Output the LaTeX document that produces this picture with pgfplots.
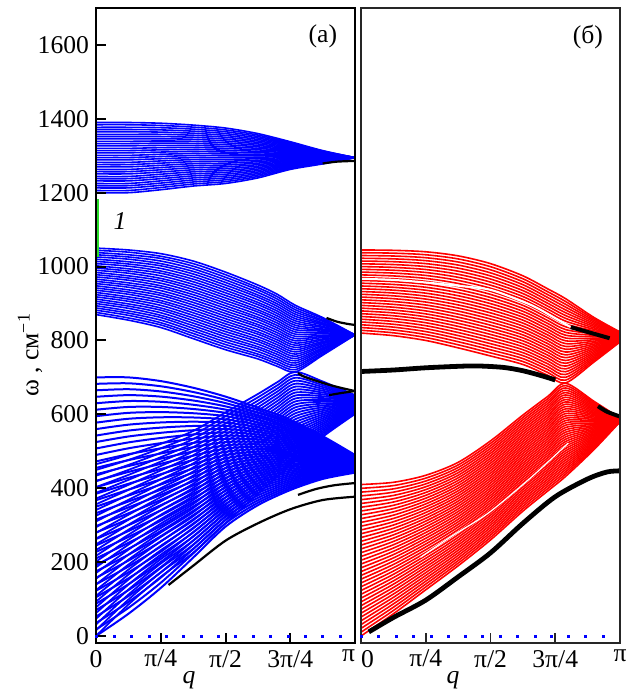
\documentclass[border=0pt]{standalone}
\usepackage{pgfplots}
\pgfplotsset{compat=1.18}
\usepackage{pgfplotstable}
\usepackage{fontspec}
\setmainfont{Liberation Serif}

% panel (a), top band: column 0 = q/pi, columns 1..31 = lines
\pgfplotstableread[header=false]{
0 1390 1384 1377 1371 1365 1358 1352 1346 1339 1333 1327 1320 1314 1308 1301 1295 1289 1282 1276 1270 1263 1257 1251 1244 1238 1232 1225 1219 1213 1206 1200
0.125 1390 1384 1377 1371 1365 1358 1352 1346 1339 1333 1327 1320 1314 1308 1301 1295 1289 1282 1276 1270 1263 1257 1251 1244 1238 1232 1225 1219 1213 1206 1200
0.25 1388 1382 1376 1370 1364 1358 1352 1346 1340 1334 1328 1322 1316 1310 1304 1298 1292 1286 1280 1274 1268 1262 1256 1250 1244 1238 1232 1226 1220 1214 1208
0.375 1383 1377.5 1372 1366.5 1361 1355.5 1350 1344.5 1339 1333.5 1328 1322.5 1317 1311.5 1306 1300.5 1295 1289.5 1284 1278.5 1273 1267.5 1262 1256.5 1251 1245.5 1240 1234.5 1229 1223.5 1218
0.5 1375 1370 1365 1360 1355 1350 1345 1340 1335 1330 1325 1320 1315 1310 1305 1300 1295 1290 1285 1280 1275 1270 1265 1260 1255 1250 1245 1240 1235 1230 1225
0.625 1360 1356 1352 1348 1344 1340 1336 1332 1328 1324 1320 1316 1312 1308 1304 1300 1296 1292 1288 1284 1280 1276 1272 1268 1264 1260 1256 1252 1248 1244 1240
0.75 1338 1335.5 1333 1330.5 1328 1325.5 1323 1320.5 1318 1315.5 1313 1310.5 1308 1305.5 1303 1300.5 1298 1295.5 1293 1290.5 1288 1285.5 1283 1280.5 1278 1275.5 1273 1270.5 1268 1265.5 1263
0.875 1314 1312.8 1311.6 1310.4 1309.2 1308 1306.8 1305.6 1304.4 1303.2 1302 1300.8 1299.6 1298.4 1297.2 1296 1294.8 1293.6 1292.4 1291.2 1290 1288.8 1287.6 1286.4 1285.2 1284 1282.8 1281.6 1280.4 1279.2 1278
1 1295 1295 1295 1295 1295 1295 1295 1295 1295 1295 1295 1295 1295 1295 1295 1295 1295 1295 1295 1295 1295 1295 1295 1295 1295 1295 1295 1295 1295 1295 1295
}\tAone

% panel (a), band 870-1050
\pgfplotstableread[header=false]{
0 1050 1044 1038 1032 1026 1020 1014 1008 1002 996 990 984 978 972 966 960 954 948 942 936 930 924 918 912 906 900 894 888 882 876 870
0.125 1045 1039 1032 1026 1020 1013 1007 1001 994 988 982 975 969 963 956 950 944 937 931 925 918 912 906 899 893 887 880 874 868 861 855
0.25 1035 1028 1022 1015 1008 1002 995 988 982 975 968 962 955 948 942 935 928 922 915 908 902 895 888 882 875 868 862 855 848 842 835
0.375 1015 1008 1001 994 987 980 973 966 959 952 945 938 931 924 917 910 903 896 889 882 875 868 861 854 847 840 833 826 819 812 805
0.5 985 978 971 964 957 950 943 936 929 922 915 908 901 894 887 880 873 866 859 852 845 838 831 824 817 810 803 796 789 782 775
0.625 950 943 937 930 923 917 910 903 897 890 883 877 870 863 857 850 843 837 830 823 817 810 803 797 790 783 777 770 763 757 750
0.7 925 918.5 912 905.5 899 892.5 886 879.5 873 866.5 860 853.5 847 840.5 834 827.5 821 814.5 808 801.5 795 788.5 782 775.5 769 762.5 756 749.5 743 736.5 730
0.77 895 889 883 877 871 865 859 853 847 841 835 829 823 817 811 805 799 793 787 781 775 769 763 757 751 745 739 733 727 721 715
0.875 862 859 855 852 848 845 842 838 835 831 828 825 821 818 814 811 808 804 801 797 794 791 787 784 780 777 774 770 767 763 760
1 815 815 815 815 815 815 815 815 815 815 815 815 815 815 815 815 815 815 815 815 815 815 815 815 815 815 815 815 815 815 815
}\tAtwo

% panel (a), band starting 0-700, converging to 442-490
\pgfplotstableread[header=false]{
0 700 682.5 665 647.5 630 612.5 595 577.5 560 542.5 525 507.5 490 472.5 455 437.5 420 402.5 385 367.5 350 332.5 315 297.5 280 262.5 245 227.5 210 192.5 175 157.5 140 122.5 105 87.5 70 52.5 35 17.5 0
0.125 700 684 668 652 636 620 604 588 572 556 540 524 508 492 476 460 444 428 412 396 380 364 348 332 316 300 284 268 252 236 220 204 188 172 156 140 124 108 92 76 60
0.25 690 676 662 648 634 620 606 592 578 564 550 536 522 508 494 480 466 452 438 424 410 396 382 368 354 340 326 312 298 284 270 256 242 228 214 200 186 172 158 144 130
0.375 672 660.5 649 637.5 626 614.5 603 591.5 580 568.5 557 545.5 534 522.5 511 499.5 488 476.5 465 453.5 442 430.5 419 407.5 396 384.5 373 361.5 350 338.5 327 315.5 304 292.5 281 269.5 258 246.5 235 223.5 212
0.5 648 639.2 630.4 621.6 612.8 604 595.2 586.4 577.6 568.8 560 551.2 542.4 533.6 524.8 516 507.2 498.4 489.6 480.8 472 463.2 454.4 445.6 436.8 428 419.2 410.4 401.6 392.8 384 375.2 366.4 357.6 348.8 340 331.2 322.4 313.6 304.8 296
0.625 618 611.4 604.8 598.2 591.6 585 578.4 571.8 565.2 558.6 552 545.4 538.8 532.2 525.6 519 512.4 505.8 499.2 492.6 486 479.4 472.8 466.2 459.6 453 446.4 439.8 433.2 426.6 420 413.4 406.8 400.2 393.6 387 380.4 373.8 367.2 360.6 354
0.75 585 580.25 575.5 570.75 566 561.25 556.5 551.75 547 542.25 537.5 532.75 528 523.25 518.5 513.75 509 504.25 499.5 494.75 490 485.25 480.5 475.75 471 466.25 461.5 456.75 452 447.25 442.5 437.75 433 428.25 423.5 418.75 414 409.25 404.5 399.75 395
0.875 541 538.1 535.2 532.3 529.4 526.5 523.6 520.7 517.8 514.9 512 509.1 506.2 503.3 500.4 497.5 494.6 491.7 488.8 485.9 483 480.1 477.2 474.3 471.4 468.5 465.6 462.7 459.8 456.9 454 451.1 448.2 445.3 442.4 439.5 436.6 433.7 430.8 427.9 425
1 490 488.8 487.6 486.4 485.2 484 482.8 481.6 480.4 479.2 478 476.8 475.6 474.4 473.2 472 470.8 469.6 468.4 467.2 466 464.8 463.6 462.4 461.2 460 458.8 457.6 456.4 455.2 454 452.8 451.6 450.4 449.2 448 446.8 445.6 444.4 443.2 442
}\tAthree

% panel (a), rising band (0-465 at q=0, crossing at 0.77)
\pgfplotstableread[header=false]{
0 465 449.5 434 418.5 403 387.5 372 356.5 341 325.5 310 294.5 279 263.5 248 232.5 217 201.5 186 170.5 155 139.5 124 108.5 93 77.5 62 46.5 31 15.5 0
0.125 490 476.5 463 449.5 436 422.5 409 395.5 382 368.5 355 341.5 328 314.5 301 287.5 274 260.5 247 233.5 220 206.5 193 179.5 166 152.5 139 125.5 112 98.5 85
0.25 520 508 496 484 472 460 448 436 424 412 400 388 376 364 352 340 328 316 304 292 280 268 256 244 232 220 208 196 184 172 160
0.375 555 544 533 522 511 500 489 478 467 456 445 434 423 412 401 390 379 368 357 346 335 324 313 302 291 280 269 258 247 236 225
0.5 605 595 585 575 565 555 545 535 525 515 505 495 485 475 465 455 445 435 425 415 405 395 385 375 365 355 345 335 325 315 305
0.625 655 646 637 628 619 610 601 592 583 574 565 556 547 538 529 520 511 502 493 484 475 466 457 448 439 430 421 412 403 394 385
0.7 687 678.5 670 661.5 653 644.5 636 627.5 619 610.5 602 593.5 585 576.5 568 559.5 551 542.5 534 525.5 517 508.5 500 491.5 483 474.5 466 457.5 449 440.5 432
0.77 715 707 699 691 683 675 667 659 651 643 635 627 619 611 603 595 587 579 571 563 555 547 539 531 523 515 507 499 491 483 475
0.875 689 684 679 674 669 664 659 654 649 644 639 634 629 624 619 614 609 604 599 594 589 584 579 574 569 564 559 554 549 544 539
1 652 650.3 648.6 646.9 645.2 643.5 641.8 640.1 638.4 636.7 635 633.3 631.6 629.9 628.2 626.5 624.8 623.1 621.4 619.7 618 616.3 614.6 612.9 611.2 609.5 607.8 606.1 604.4 602.7 601
}\tAfour

% panel (b), top band
\pgfplotstableread[header=false]{
0 1045 1037.5 1030 1022.5 1015 1007.5 1000 992.5 985 977.5 970 962.5 955 947.5 940 932.5 925 917.5 910 902.5 895 887.5 880 872.5 865 857.5 850 842.5 835 827.5 820
0.125 1044 1036.3 1028.6 1020.9 1013.2 1005.5 997.8 990.1 982.4 974.7 967 959.3 951.6 943.9 936.2 928.5 920.8 913.1 905.4 897.7 890 882.3 874.6 866.9 859.2 851.5 843.8 836.1 828.4 820.7 813
0.25 1040 1032 1024 1016 1008 1000 992 984 976 968 960 952 944 936 928 920 912 904 896 888 880 872 864 856 848 840 832 824 816 808 800
0.375 1029 1020.7 1012.4 1004.1 995.8 987.5 979.2 970.9 962.6 954.3 946 937.7 929.4 921.1 912.8 904.5 896.2 887.9 879.6 871.3 863 854.7 846.4 838.1 829.8 821.5 813.2 804.9 796.6 788.3 780
0.5 1008 999.7 991.3 983 974.7 966.3 958 949.7 941.3 933 924.7 916.3 908 899.7 891.3 883 874.7 866.3 858 849.7 841.3 833 824.7 816.3 808 799.7 791.3 783 774.7 766.3 758
0.625 975 967 959 951 943 935 927 919 911 903 895 887 879 871 863 855 847 839 831 823 815 807 799 791 783 775 767 759 751 743 735
0.72 940 932.2 924.4 916.6 908.8 901 893.2 885.4 877.6 869.8 862 854.2 846.4 838.6 830.8 823 815.2 807.4 799.6 791.8 784 776.2 768.4 760.6 752.8 745 737.2 729.4 721.6 713.8 706
0.79 913 905.4 897.8 890.2 882.6 875 867.4 859.8 852.2 844.6 837 829.4 821.8 814.2 806.6 799 791.4 783.8 776.2 768.6 761 753.4 745.8 738.2 730.6 723 715.4 707.8 700.2 692.6 685
0.9 862 858 854 850 846 842 838 834 830 826 822 818 814 810 806 802 798 794 790 786 782 778 774 770 766 762 758 754 750 746 742
1 823 822.1 821.2 820.3 819.4 818.5 817.6 816.7 815.8 814.9 814 813.1 812.2 811.3 810.4 809.5 808.6 807.7 806.8 805.9 805 804.1 803.2 802.3 801.4 800.5 799.6 798.7 797.8 796.9 796
}\tBone

% panel (b), lower band
\pgfplotstableread[header=false]{
0 410 399.75 389.5 379.25 369 358.75 348.5 338.25 328 317.75 307.5 297.25 287 276.75 266.5 256.25 246 235.75 225.5 215.25 205 194.75 184.5 174.25 164 153.75 143.5 133.25 123 112.75 102.5 92.25 82 71.75 61.5 51.25 41 30.75 20.5 10.25 0
0.125 416 407.1 398.2 389.3 380.4 371.5 362.6 353.7 344.8 335.9 327 318.1 309.2 300.3 291.4 282.5 273.6 264.7 255.8 246.9 238 229.1 220.2 211.3 202.4 193.5 184.6 175.7 166.8 157.9 149 140.1 131.2 122.3 113.4 104.5 95.6 86.7 77.8 68.9 60
0.25 435 427.25 419.5 411.75 404 396.25 388.5 380.75 373 365.25 357.5 349.75 342 334.25 326.5 318.75 311 303.25 295.5 287.75 280 272.25 264.5 256.75 249 241.25 233.5 225.75 218 210.25 202.5 194.75 187 179.25 171.5 163.75 156 148.25 140.5 132.75 125
0.375 470 463 456 449 442 435 428 421 414 407 400 393 386 379 372 365 358 351 344 337 330 323 316 309 302 295 288 281 274 267 260 253 246 239 232 225 218 211 204 197 190
0.5 528 521.3 514.6 507.9 501.2 494.5 487.8 481.1 474.4 467.7 461 454.3 447.6 440.9 434.2 427.5 420.8 414.1 407.4 400.7 394 387.3 380.6 373.9 367.2 360.5 353.8 347.1 340.4 333.7 327 320.3 313.6 306.9 300.2 293.5 286.8 280.1 273.4 266.7 260
0.625 598 591.5 585 578.5 572 565.5 559 552.5 546 539.5 533 526.5 520 513.5 507 500.5 494 487.5 481 474.5 468 461.5 455 448.5 442 435.5 429 422.5 416 409.5 403 396.5 390 383.5 377 370.5 364 357.5 351 344.5 338
0.72 648 641.6 635.2 628.8 622.4 616 609.6 603.2 596.8 590.4 584 577.6 571.2 564.8 558.4 552 545.6 539.2 532.8 526.4 520 513.6 507.2 500.8 494.4 488 481.6 475.2 468.8 462.4 456 449.6 443.2 436.8 430.4 424 417.6 411.2 404.8 398.4 392
0.79 684 677.7 671.4 665.1 658.8 652.5 646.2 639.9 633.6 627.3 621 614.7 608.4 602.1 595.8 589.5 583.2 576.9 570.6 564.3 558 551.7 545.4 539.1 532.8 526.5 520.2 513.9 507.6 501.3 495 488.7 482.4 476.1 469.8 463.5 457.2 450.9 444.6 438.3 432
0.9 635 631.75 628.5 625.25 622 618.75 615.5 612.25 609 605.75 602.5 599.25 596 592.75 589.5 586.25 583 579.75 576.5 573.25 570 566.75 563.5 560.25 557 553.75 550.5 547.25 544 540.75 537.5 534.25 531 527.75 524.5 521.25 518 514.75 511.5 508.25 505
1 590 589.75 589.5 589.25 589 588.75 588.5 588.25 588 587.75 587.5 587.25 587 586.75 586.5 586.25 586 585.75 585.5 585.25 585 584.75 584.5 584.25 584 583.75 583.5 583.25 583 582.75 582.5 582.25 582 581.75 581.5 581.25 581 580.75 580.5 580.25 580
}\tBtwo

\definecolor{lgreen}{RGB}{40,220,40}

\begin{document}
\begin{tikzpicture}
\path[use as bounding box] (-48pt,-23.5pt) rectangle (269pt,321.5pt);
\pgfplotsset{
  panel/.style={scale only axis, width=129.5pt, height=317.5pt,
    xmin=0, xmax=1, ymin=-19, ymax=1700,
    xtick={0,0.25,0.5,0.75,1},
    xtick pos=left, ytick pos=left, tick align=inside,
    major tick length=5pt, axis on top,
    tick label style={font=\fontsize{12.8}{14}\selectfont},
    /pgf/number format/assume math mode=true},
  bl/.style={blue, line width=0.8pt, smooth, no markers},
  rd/.style={red, line width=0.8pt, smooth, no markers},
}
\begin{axis}[panel, at={(0pt,0pt)}, anchor=south west,
  xticklabels={0,π/4,π/2,3π/4,\makebox[0pt][r]{π}},
  ytick={0,200,400,600,800,1000,1200,1400,1600},
  yticklabels={0,200,400,600,800,1000,1200,1400,1600},
  axis line style={line width=1pt},
  every tick/.style={line width=1pt, black}]
\pgfplotsinvokeforeach{1,...,31}{\addplot[bl] table[x index=0,y index=#1]{\tAone};}
\pgfplotsinvokeforeach{1,...,31}{\addplot[bl] table[x index=0,y index=#1]{\tAtwo};}
\pgfplotsinvokeforeach{1,...,41}{\addplot[bl, line width=1pt] table[x index=0,y index=#1]{\tAthree};}
\pgfplotsinvokeforeach{1,...,31}{\addplot[bl, line width=0.9pt] table[x index=0,y index=#1]{\tAfour};}
% black modes
\addplot[black, line width=1.1pt, smooth] coordinates {(0.28,138) (0.375,190) (0.5,258) (0.625,305) (0.75,343) (0.875,368) (1,377)};
\addplot[black, line width=1.1pt, smooth] coordinates {(0.78,382) (0.85,398) (0.92,408) (1,414)};
\addplot[black, line width=1.1pt, smooth] coordinates {(0.78,712) (0.8,703) (0.85,691) (0.9,680) (0.95,671) (1,663)};
\addplot[black, line width=1.1pt, smooth] coordinates {(0.9,652) (0.95,658) (1,663)};
\addplot[black, line width=1.1pt, smooth] coordinates {(0.89,861) (0.93,851) (0.97,845) (1,842)};
\addplot[black, line width=1.1pt, smooth] coordinates {(0.875,1279) (0.93,1284) (1,1286)};
% green mode 1
\addplot[lgreen, line width=1.5pt] coordinates {(0.007,1026) (0.007,1183)};
% dots at zero
\addplot[only marks, mark=square*, mark size=0.5pt, blue] coordinates {(0,0) (0.07,0) (0.137,0) (0.205,0) (0.273,0) (0.338,0) (0.406,0) (0.473,0) (0.539,0) (0.606,0) (0.674,0) (0.742,0) (0.808,0) (0.875,0) (0.942,0)};
\node at (axis cs:0.876,1624) {\fontsize{12.8}{14}\selectfont (a)};
\node at (axis cs:0.093,1123) {\fontsize{12.8}{14}\selectfont\itshape 1};
\end{axis}

\begin{axis}[panel, at={(132.5pt,0pt)}, anchor=south west, ytick=\empty,
  xticklabels={\makebox[0pt][l]{0},π/4,π/2,3π/4,π},
  axis line style={line width=0.8pt, black!85},
  every tick/.style={line width=0.8pt, black!85}]
\pgfplotsinvokeforeach{1,...,31}{\addplot[rd] table[x index=0,y index=#1]{\tBone};}
\pgfplotsinvokeforeach{1,...,41}{\addplot[rd] table[x index=0,y index=#1]{\tBtwo};}
% gaps (missing branch)
\addplot[white, line width=1pt, smooth] coordinates {(0,967) (0.125,964) (0.25,957) (0.375,948) (0.5,937) (0.625,905) (0.68,888) (0.75,860) (0.81,836)};
\addplot[white, line width=0.6pt, smooth] coordinates {(0.23,213) (0.35,270) (0.49,332) (0.65,425) (0.8,522)};
% black modes
\addplot[black, line width=2.4pt, smooth] coordinates {(0.03,11) (0.125,50) (0.25,97) (0.375,160) (0.5,225) (0.625,305) (0.75,377) (0.875,425) (0.95,444) (1,447)};
\addplot[black, line width=2.4pt, smooth] coordinates {(0,716) (0.125,720) (0.25,726) (0.375,730) (0.45,731) (0.55,727) (0.625,718) (0.7,704) (0.75,693)};
\addplot[black, line width=2pt, smooth] coordinates {(0.81,836) (0.87,824) (0.92,814) (0.96,806)};
\addplot[black, line width=2pt, smooth] coordinates {(0.915,622) (0.95,607) (1,594)};
\addplot[only marks, mark=square*, mark size=0.5pt, blue] coordinates {(0,0) (0.069,0) (0.136,0) (0.203,0) (0.27,0) (0.336,0) (0.402,0) (0.47,0) (0.538,0) (0.605,0) (0.672,0) (0.736,0) (0.8,0) (0.867,0) (0.936,0)};
\node at (axis cs:0.876,1620) {\fontsize{12.8}{14}\selectfont (б)};
\end{axis}

\node[rotate=90, font=\fontsize{12.8}{14}\selectfont] at (-33pt,144.1pt) {ω , см\textsuperscript{−1}};
\node[anchor=base, font=\fontsize{12.8}{14}\selectfont\itshape] at (46.5pt,-20pt) {q};
\node[anchor=base, font=\fontsize{12.8}{14}\selectfont\itshape] at (178.5pt,-20pt) {q};
\end{tikzpicture}
\end{document}
